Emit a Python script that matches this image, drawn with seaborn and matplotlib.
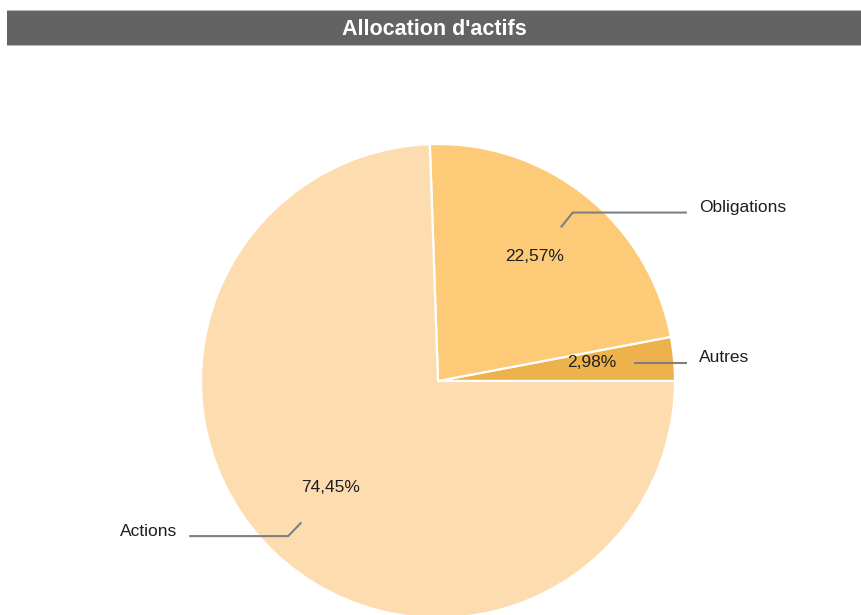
import numpy as np
import matplotlib
matplotlib.use("Agg")
import matplotlib.pyplot as plt
import seaborn as sns
from matplotlib.patches import Rectangle

sns.set_theme(style="white")
plt.rcParams["font.family"] = ["Liberation Sans", "DejaVu Sans"]

# -----------------------------
# Data
# -----------------------------
title = "Allocation d'actifs"
categories = ["Autres", "Obligations", "Actions"]
shares = [2.98, 22.57, 74.45]
palette = sns.color_palette(["#EDB24B", "#FDCA78", "#FDDCB0"])

# layout (pixel units, figure is 861 x 615)
W, H = 861, 615
cx, cy, R = 438, H - 381, 237

fig = plt.figure(figsize=(W / 100, H / 100), dpi=100)
ax = fig.add_axes([0, 0, 1, 1])

wedges, _, pct_texts = ax.pie(
    shares,
    colors=palette,
    startangle=0,
    counterclock=True,
    center=(cx, cy),
    radius=R,
    autopct=lambda p: f"{p:.2f}%".replace(".", ","),
    pctdistance=0.65,
    wedgeprops=dict(edgecolor="white", linewidth=1.6),
    textprops=dict(fontsize=12.5, color="#1e1e1e"),
)
for t in pct_texts:
    x, y = t.get_position()
    t.set_position((x, y + 4))
ax.set_xlim(0, W)
ax.set_ylim(0, H)
ax.set_aspect("equal")
ax.axis("off")

# leader lines + category labels
for w, name in zip(wedges, categories):
    mid = np.deg2rad((w.theta1 + w.theta2) / 2)
    x0, y0 = cx + 0.83 * R * np.cos(mid), cy + 0.83 * R * np.sin(mid)
    x1, y1 = cx + 0.91 * R * np.cos(mid), cy + 0.91 * R * np.sin(mid)
    if abs(np.sin(mid)) < 0.2:
        # nearly horizontal slice: straight leader
        y1 = y0
    side = 1 if np.cos(mid) >= 0 else -1
    x2 = cx + side * 1.05 * R
    ax.plot([x0, x1, x2], [y0, y1, y1], color="#7f7f7f", lw=1.5,
            solid_capstyle="butt")
    ax.text(cx + side * 1.10 * R, y1 + 5, name,
            ha="left" if side > 0 else "right", va="center",
            fontsize=12.5, color="#1e1e1e")

# title bar
tax = fig.add_axes([7 / W, 1 - 46 / H, 1 - 7 / W, 36 / H])
tax.set_xlim(0, 1)
tax.set_ylim(0, 1)
tax.axis("off")
tax.add_patch(Rectangle((0, 0), 1, 1, facecolor="#636363",
                        edgecolor="none"))
for yy in (1, 0):
    tax.axhline(yy, color="#b5b5b5", lw=1.5)
tax.text(0.5, 0.47, title, ha="center", va="center", color="white",
         fontsize=15.5, fontweight="bold")

fig.savefig("out.png", dpi=100)
